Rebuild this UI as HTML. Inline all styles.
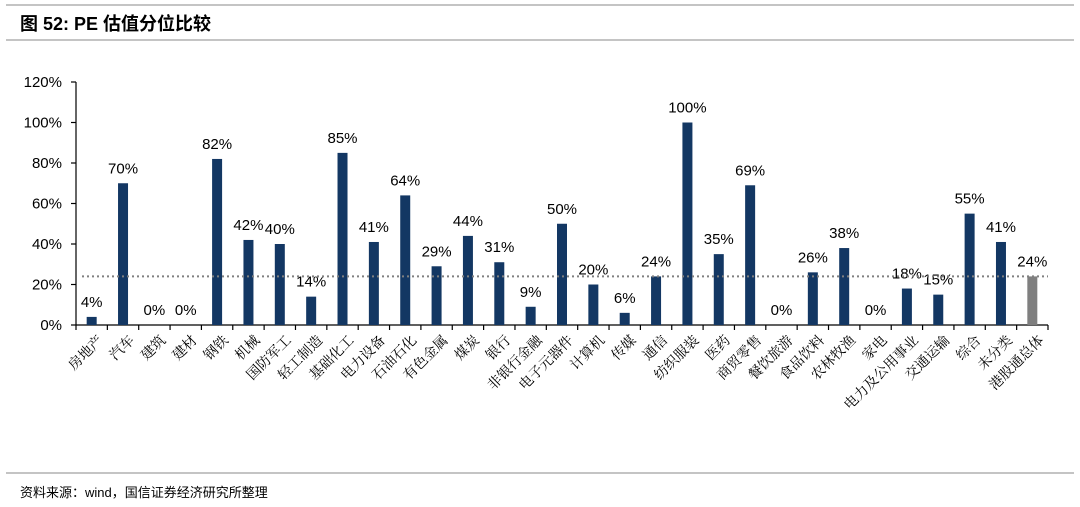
<!DOCTYPE html>
<html><head><meta charset="utf-8">
<style>
body{margin:0;background:#fff;width:1080px;height:507px;overflow:hidden;font-family:"Liberation Sans","Noto Sans CJK SC",sans-serif}
svg{display:block}
</style></head>
<body>
<svg width="1080" height="507">
<line x1="6" y1="5" x2="1074" y2="5" stroke="#888" stroke-width="1"/>
<text x="20" y="30" font-size="18" font-weight="bold" fill="#000">图 52:  PE 估值分位比较</text>
<line x1="6" y1="40" x2="1074" y2="40" stroke="#888" stroke-width="1"/>
<g id="plot"></g>
<line x1="6" y1="473" x2="1074" y2="473" stroke="#888" stroke-width="1"/>
<text x="20" y="497" font-size="13" fill="#000">资料来源：wind，国信证券经济研究所整理</text>
</svg>
<script>
const categories=["房地产","汽车","建筑","建材","钢铁","机械","国防军工","轻工制造","基础化工","电力设备","石油石化","有色金属","煤炭","银行","非银行金融","电子元器件","计算机","传媒","通信","纺织服装","医药","商贸零售","餐饮旅游","食品饮料","农林牧渔","家电","电力及公用事业","交通运输","综合","未分类","港股通总体"];
const values=[4,70,0,0,82,42,40,14,85,41,64,29,44,31,9,50,20,6,24,100,35,69,0,26,38,0,18,15,55,41,24];
const yTicks=[0,20,40,60,80,100,120];
const refValue=24;
const NS="http://www.w3.org/2000/svg";
const g=document.getElementById('plot');
const x0=76,x1=1048,yBase=325,yTop=82;
const step=(x1-x0)/categories.length;
const y=v=>yBase-(v/120)*(yBase-yTop);
const xc=i=>x0+step*(i+0.5);
function mk(t,a){const e=document.createElementNS(NS,t);for(const k in a)e.setAttribute(k,a[k]);g.appendChild(e);return e;}
// y axis
let ax=mk('line',{x1:x0,y1:yTop,x2:x0,y2:yBase,stroke:'#000','stroke-width':1.2});


yTicks.forEach(t=>{
 const l=mk('line',{x1:x0-5,y1:y(t),x2:x0,y2:y(t),stroke:'#000','stroke-width':1.2});
 
 
 const tx=mk('text',{x:x0-14,y:y(t)+5,'font-size':15,'text-anchor':'end',fill:'#000'});
 tx.textContent=t+'%';
 
 
});
let xa=mk('line',{x1:x0,y1:yBase,x2:x1,y2:yBase,stroke:'#000','stroke-width':1.2});


for(let i=0;i<=categories.length;i++){
 const l=mk('line',{x1:x0+step*i,y1:yBase,x2:x0+step*i,y2:yBase+5,stroke:'#000','stroke-width':1.2});
 
 
}
categories.forEach((c,i)=>{
 const v=values[i];
 const last=i===categories.length-1;
 const r=mk('rect',{x:xc(i)-5,y:y(v),width:10,height:yBase-y(v),fill:last?'#7f7f7f':'#133763'});
 
 
 if(!last){
  const t=mk('text',{x:xc(i),y:y(v)-10,'font-size':15,'text-anchor':'middle',fill:'#000'});
  t.textContent=v+'%';
  
  
 }
 const lx=xc(i)+5,ly=yBase+9;
 const t=mk('text',{x:lx,y:ly,'font-size':14,'text-anchor':'end',fill:'#000','font-family':'"Noto Serif CJK SC","Liberation Serif",serif',transform:`rotate(-45 ${lx} ${ly}) translate(0 10)`});
 t.textContent=c;
 
 
});
// last value label
const lt=mk('text',{x:xc(values.length-1),y:y(values[values.length-1])-10,'font-size':15,'text-anchor':'middle',fill:'#000'});
lt.textContent=values[values.length-1]+'%';


const rl=mk('line',{x1:x0+6,y1:y(refValue),x2:x1,y2:y(refValue),stroke:'#808080','stroke-width':2,'stroke-dasharray':'2,3'});


</script>
</body></html>
